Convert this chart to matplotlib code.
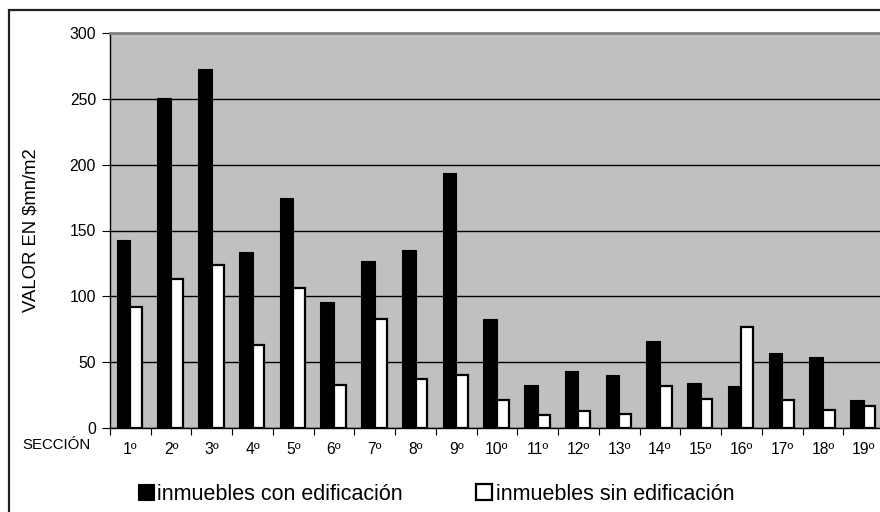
import matplotlib
matplotlib.use('Agg')
import matplotlib.pyplot as plt
from matplotlib.patches import Rectangle
import numpy as np

plt.rcParams['font.family'] = ['Liberation Sans', 'DejaVu Sans']

# data
secciones = ['1º', '2º', '3º', '4º', '5º', '6º', '7º', '8º', '9º', '10º',
             '11º', '12º', '13º', '14º', '15º', '16º', '17º', '18º', '19º']
con_edif = [143, 251, 273, 134, 175, 96, 127, 135, 194, 83,
            33, 43, 40, 66, 34, 32, 57, 54, 21]
sin_edif = [92, 113, 124, 63, 106, 33, 83, 37, 40, 21,
            10, 13, 11, 32, 22, 77, 21, 14, 17]
label_con = 'inmuebles con edificación'
label_sin = 'inmuebles sin edificación'

W, H = 880, 512
fig = plt.figure(figsize=(W / 100, H / 100), dpi=100)
fig.patch.set_facecolor('white')

# outer chart frame (only left and top visible)
fig.add_artist(Rectangle((9 / W, -0.05), 1.1, 1 - 10 / H + 0.05, fill=False,
                         edgecolor='#222222', lw=1.6, transform=fig.transFigure))

left, right, top, bottom = 110, 884, 33, 428
ax = fig.add_axes([left / W, 1 - bottom / H, (right - left) / W, (bottom - top) / H])
ax.set_facecolor('#c0c0c0')

x = np.arange(len(secciones))
b1 = ax.bar(x - 0.335, con_edif, width=0.335, align='edge', color='black',
            edgecolor='black', lw=0.8, zorder=3, label=label_con)
b2 = ax.bar(x, sin_edif, width=0.29, align='edge', color='white',
            edgecolor='black', lw=1.6, zorder=3, label=label_sin)

ax.set_xlim(-0.5, len(secciones) - 0.5)
ax.set_ylim(0, 300)
ax.set_yticks(range(0, 301, 50))
ax.yaxis.grid(True, color='black', lw=1.0, zorder=1)
ax.set_axisbelow(True)

ax.set_xticks(x)
ax.set_xticklabels(secciones, fontsize=11.3)
ax.set_xticks(np.arange(-0.5, len(secciones), 1), minor=True)
ax.tick_params(axis='x', which='major', length=0, pad=10)
ax.tick_params(axis='x', which='minor', length=5, width=0.8, direction='out')
ax.tick_params(axis='y', length=6, width=0.8, pad=4, labelsize=11.3)

for s in ['left', 'bottom']:
    ax.spines[s].set_color('black')
    ax.spines[s].set_linewidth(1.0)
ax.spines['top'].set_color('#808080')
ax.spines['top'].set_linewidth(2)
ax.spines['right'].set_visible(False)

ax.set_ylabel('VALOR EN $mn/m2', fontsize=13.3)
ax.yaxis.set_label_coords(-(left - 39) / (right - left), 0.5)

fig.text(22 / W, 1 - 445 / H, 'SECCIÓN', fontsize=10.8, va='center', ha='left')

fig.legend(handles=[b1, b2], labels=[label_con, label_sin], ncol=2,
           loc='center left', bbox_to_anchor=(138 / W, 1 - 494 / H),
           frameon=False, fontsize=15.5, handlelength=0.75, handleheight=0.75,
           handletextpad=0.15, columnspacing=3.4, borderpad=0, borderaxespad=0)

fig.savefig('out.png', dpi=100)
